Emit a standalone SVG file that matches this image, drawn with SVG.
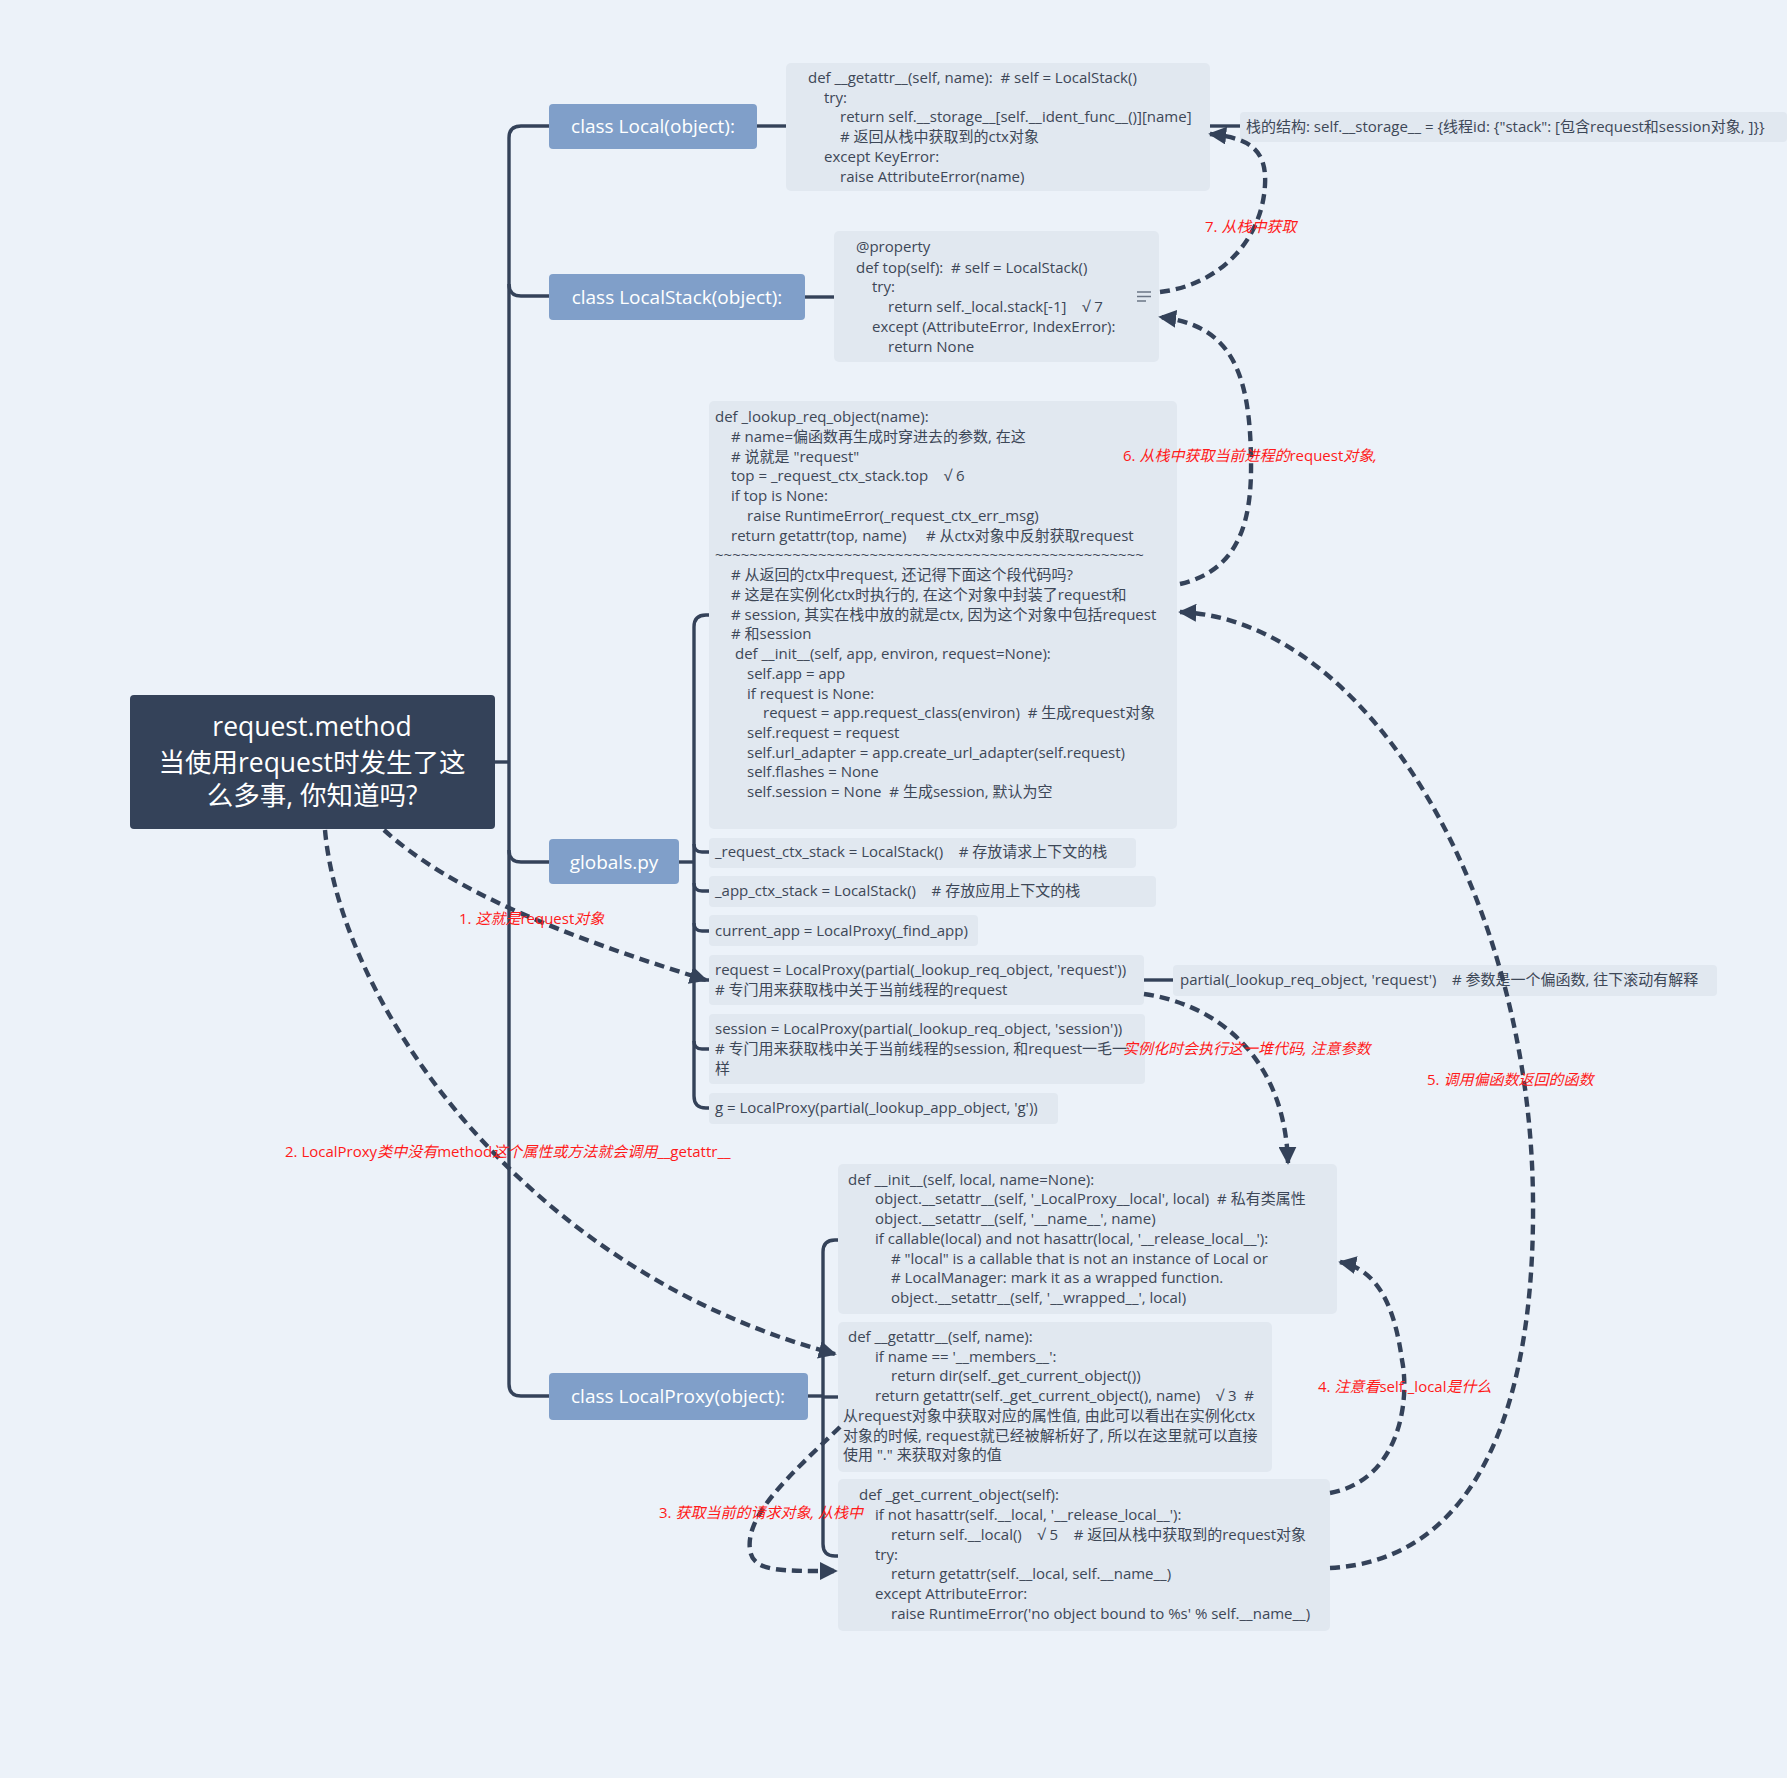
<svg xmlns="http://www.w3.org/2000/svg" width="1787" height="1778" viewBox="0 0 1787 1778">
<defs>
<style>
text{font-family:"Open Sans","Noto Sans CJK SC",sans-serif;white-space:pre}
.code{font-size:15px;fill:#3d4757}
.box{fill:#e1e8f0}
.br{fill:#809fc9}
.brt{font-size:19px;fill:#fff;text-anchor:middle}
.rt{font-size:26.5px;fill:#fff;text-anchor:middle}
.ln{fill:none;stroke:#344259;stroke-width:3.4}
.da{fill:none;stroke:#344259;stroke-width:4.4;stroke-dasharray:10 6;marker-end:url(#ah)}
.lbl{font-size:15px;fill:#ff1a1a}
.it{font-style:italic}
</style>
<marker id="ah" viewBox="0 0 10 10" refX="9" refY="5" markerWidth="18" markerHeight="18" markerUnits="userSpaceOnUse" orient="auto"><path d="M0,0 L10,5 L0,10 z" fill="#344259"/></marker>
</defs>
<rect width="1787" height="1778" fill="#ecf2f9"/>

<g id="connectors">
<path class="ln" d="M495,762 H509"/>
<path class="ln" d="M549,126 H521 Q509,126 509,138 V1384 Q509,1396 521,1396 H549"/>
<path class="ln" d="M509,284 Q509,296 521,296 H549"/>
<path class="ln" d="M509,850 Q509,862 521,862 H549"/>
<path class="ln" d="M757,126 H786"/>
<path class="ln" d="M1210,126 H1240"/>
<path class="ln" d="M805,297 H834"/>
<path class="ln" d="M679,862 H694"/>
<path class="ln" d="M709,615 H706 Q694,615 694,627 V1096 Q694,1108 706,1108 H709"/>
<path class="ln" d="M694,844 Q694,852 702,852 H709"/>
<path class="ln" d="M694,883 Q694,891 702,891 H709"/>
<path class="ln" d="M694,923 Q694,931 702,931 H709"/>
<path class="ln" d="M694,972 Q694,980 702,980 H709"/>
<path class="ln" d="M694,1041 Q694,1049 702,1049 H709"/>
<path class="ln" d="M1144,980 H1173"/>
<path class="ln" d="M808,1396 H823"/>
<path class="ln" d="M838,1240 H835 Q823,1240 823,1252 V1544 Q823,1556 835,1556 H838"/>
<path class="ln" d="M823,1397 H838"/>
</g>

<g id="root">
<rect x="130" y="695" width="365" height="134" rx="4" fill="#344259"/>
<text class="rt" x="312" y="736">request.method</text>
<text class="rt" x="312" y="771.5">当使用request时发生了这</text>
<text class="rt" x="312" y="804.5">么多事, 你知道吗?</text>
</g>

<g id="node-local">
<rect class="br" x="549" y="104" width="208" height="45" rx="4"/>
<text class="brt" x="653" y="133">class Local(object):</text>
</g>
<g id="node-localstack">
<rect class="br" x="549" y="274" width="256" height="46" rx="4"/>
<text class="brt" x="677" y="304">class LocalStack(object):</text>
</g>
<g id="node-globals">
<rect class="br" x="549" y="839" width="130" height="45" rx="4"/>
<text class="brt" x="614" y="869">globals.py</text>
</g>
<g id="node-localproxy">
<rect class="br" x="549" y="1373" width="259" height="47" rx="4"/>
<text class="brt" x="678" y="1403">class LocalProxy(object):</text>
</g>

<g id="code-local-getattr">
<rect class="box" x="786" y="63" width="424" height="128" rx="5"/>
<text class="code" x="808" y="82.5">def __getattr__(self, name):  # self = LocalStack()</text>
<text class="code" x="824" y="103">try:</text>
<text class="code" x="840" y="122.4">return self.__storage__[self.__ident_func__()][name]</text>
<text class="code" x="840" y="141.8"># 返回从栈中获取到的ctx对象</text>
<text class="code" x="824" y="162.3">except KeyError:</text>
<text class="code" x="840" y="181.7">raise AttributeError(name)</text>
</g>

<g id="note-storage">
<rect class="box" x="1240" y="112" width="547" height="30" rx="4"/>
<text class="code" x="1246" y="131.5">栈的结构: self.__storage__ = {线程id: {"stack": [包含request和session对象, ]}}</text>
</g>

<g id="code-localstack-top">
<rect class="box" x="834" y="231" width="325" height="131" rx="5"/>
<text class="code" x="856" y="252.3">@property</text>
<text class="code" x="856" y="272.8">def top(self):  # self = LocalStack()</text>
<text class="code" x="872" y="292.2">try:</text>
<text class="code" x="888" y="311.6">return self._local.stack[-1]    √ 7</text>
<text class="code" x="872" y="332.1">except (AttributeError, IndexError):</text>
<text class="code" x="888" y="351.5">return None</text>
<path d="M1137,292 H1151 M1137,296.5 H1151 M1137,301 H1146" stroke="#6b7585" stroke-width="1.4" fill="none"/>
</g>

<g id="code-lookup">
<rect class="box" x="709" y="401" width="468" height="428" rx="5"/>
<text class="code" x="715" y="422.1">def _lookup_req_object(name):</text>
<text class="code" x="731" y="441.8"># name=偏函数再生成时穿进去的参数, 在这</text>
<text class="code" x="731" y="461.6"># 说就是 "request"</text>
<text class="code" x="731" y="481.3">top = _request_ctx_stack.top    √ 6</text>
<text class="code" x="731" y="501.1">if top is None:</text>
<text class="code" x="747" y="520.8">raise RuntimeError(_request_ctx_err_msg)</text>
<text class="code" x="731" y="540.5">return getattr(top, name)     # 从ctx对象中反射获取request</text>
<text class="code" x="715" y="560.3">~~~~~~~~~~~~~~~~~~~~~~~~~~~~~~~~~~~~~~~~~~~~~~~~~~</text>
<text class="code" x="731" y="580"># 从返回的ctx中request, 还记得下面这个段代码吗?</text>
<text class="code" x="731" y="599.8"># 这是在实例化ctx时执行的, 在这个对象中封装了request和</text>
<text class="code" x="731" y="619.5"># session, 其实在栈中放的就是ctx, 因为这个对象中包括request</text>
<text class="code" x="731" y="639.2"># 和session</text>
<text class="code" x="735" y="659">def __init__(self, app, environ, request=None):</text>
<text class="code" x="747" y="678.7">self.app = app</text>
<text class="code" x="747" y="698.5">if request is None:</text>
<text class="code" x="763" y="718.2">request = app.request_class(environ)  # 生成request对象</text>
<text class="code" x="747" y="737.9">self.request = request</text>
<text class="code" x="747" y="757.7">self.url_adapter = app.create_url_adapter(self.request)</text>
<text class="code" x="747" y="777.4">self.flashes = None</text>
<text class="code" x="747" y="797.2">self.session = None  # 生成session, 默认为空</text>
</g>

<g id="code-request-ctx-stack">
<rect class="box" x="709" y="838" width="427" height="30" rx="4"/>
<text class="code" x="715" y="857">_request_ctx_stack = LocalStack()    # 存放请求上下文的栈</text>
</g>
<g id="code-app-ctx-stack">
<rect class="box" x="709" y="876" width="447" height="31" rx="4"/>
<text class="code" x="715" y="896.2">_app_ctx_stack = LocalStack()    # 存放应用上下文的栈</text>
</g>
<g id="code-current-app">
<rect class="box" x="709" y="915" width="269" height="31" rx="4"/>
<text class="code" x="715" y="936.1">current_app = LocalProxy(_find_app)</text>
</g>
<g id="code-request">
<rect class="box" x="709" y="955" width="435" height="50" rx="4"/>
<text class="code" x="715" y="974.9">request = LocalProxy(partial(_lookup_req_object, 'request'))</text>
<text class="code" x="715" y="995.4"># 专门用来获取栈中关于当前线程的request</text>
</g>
<g id="code-session">
<rect class="box" x="709" y="1014" width="436" height="70" rx="4"/>
<text class="code" x="715" y="1034.1">session = LocalProxy(partial(_lookup_req_object, 'session'))</text>
<text class="code" x="715" y="1053.5"># 专门用来获取栈中关于当前线程的session, 和request一毛一</text>
<text class="code" x="715" y="1074">样</text>
</g>
<g id="code-g">
<rect class="box" x="709" y="1093" width="349" height="31" rx="4"/>
<text class="code" x="715" y="1112.8">g = LocalProxy(partial(_lookup_app_object, 'g'))</text>
</g>
<g id="note-partial">
<rect class="box" x="1173" y="965" width="544" height="31" rx="4"/>
<text class="code" x="1180" y="985.1">partial(_lookup_req_object, 'request')    # 参数是一个偏函数, 往下滚动有解释</text>
</g>

<g id="code-proxy-init">
<rect class="box" x="838" y="1164" width="499" height="150" rx="5"/>
<text class="code" x="848" y="1184.6">def __init__(self, local, name=None):</text>
<text class="code" x="875" y="1204.3">object.__setattr__(self, '_LocalProxy__local', local)  # 私有类属性</text>
<text class="code" x="875" y="1224.1">object.__setattr__(self, '__name__', name)</text>
<text class="code" x="875" y="1243.8">if callable(local) and not hasattr(local, '__release_local__'):</text>
<text class="code" x="891" y="1263.6"># "local" is a callable that is not an instance of Local or</text>
<text class="code" x="891" y="1283.3"># LocalManager: mark it as a wrapped function.</text>
<text class="code" x="891" y="1303.1">object.__setattr__(self, '__wrapped__', local)</text>
</g>

<g id="code-proxy-getattr">
<rect class="box" x="838" y="1322" width="434" height="150" rx="5"/>
<text class="code" x="848" y="1341.9">def __getattr__(self, name):</text>
<text class="code" x="875" y="1361.7">if name == '__members__':</text>
<text class="code" x="891" y="1381.4">return dir(self._get_current_object())</text>
<text class="code" x="875" y="1401.1">return getattr(self._get_current_object(), name)    √ 3  #</text>
<text class="code" x="843" y="1420.9">从request对象中获取对应的属性值, 由此可以看出在实例化ctx</text>
<text class="code" x="843" y="1440.6">对象的时候, request就已经被解析好了, 所以在这里就可以直接</text>
<text class="code" x="843" y="1460.4">使用 "." 来获取对象的值</text>
</g>

<g id="code-proxy-get-current-object">
<rect class="box" x="838" y="1479" width="492" height="152" rx="5"/>
<text class="code" x="859" y="1500.3">def _get_current_object(self):</text>
<text class="code" x="875" y="1520">if not hasattr(self.__local, '__release_local__'):</text>
<text class="code" x="891" y="1539.8">return self.__local()    √ 5    # 返回从栈中获取到的request对象</text>
<text class="code" x="875" y="1559.5">try:</text>
<text class="code" x="891" y="1579.3">return getattr(self.__local, self.__name__)</text>
<text class="code" x="875" y="1599">except AttributeError:</text>
<text class="code" x="891" y="1618.8">raise RuntimeError('no object bound to %s' % self.__name__)</text>
</g>

<g id="flow-arrows">
<path class="da" d="M384,830 C450,890 560,935 706,980"/>
<path class="da" d="M325,830 C340,1000 520,1270 835,1354"/>
<path class="da" d="M840,1427 C790,1475 745,1515 750,1550 C753,1572 780,1571 836,1571"/>
<path class="da" d="M1330,1493 C1400,1480 1410,1400 1402,1360 C1395,1310 1380,1270 1340,1262"/>
<path class="da" d="M1330,1568 C1480,1560 1535,1400 1533,1200 C1531,900 1370,620 1180,612"/>
<path class="da" d="M1180,584 C1240,570 1252,520 1251,460 C1250,370 1230,325 1160,317"/>
<path class="da" d="M1160,292 C1220,285 1262,240 1265,185 C1267,150 1250,138 1210,134"/>
<path class="da" d="M1144,994 C1220,1005 1285,1060 1288,1163"/>
</g>

<g id="flow-labels">
<text class="lbl" x="459" y="924">1. <tspan class="it">这就是</tspan>request<tspan class="it">对象</tspan></text>
<text class="lbl" x="285" y="1157">2. LocalProxy<tspan class="it">类中没有</tspan>method<tspan class="it">这个属性或方法就会调用</tspan>__getattr__</text>
<text class="lbl" x="659" y="1518">3. <tspan class="it">获取当前的请求对象, 从栈中</tspan></text>
<text class="lbl" x="1318" y="1392">4. <tspan class="it">注意看</tspan>self._local<tspan class="it">是什么</tspan></text>
<text class="lbl" x="1427" y="1085">5. <tspan class="it">调用偏函数返回的函数</tspan></text>
<text class="lbl" x="1123" y="461">6. <tspan class="it">从栈中获取当前进程的</tspan>request<tspan class="it">对象,</tspan></text>
<text class="lbl" x="1205" y="232">7. <tspan class="it">从栈中获取</tspan></text>
<text class="lbl" x="1123" y="1054"><tspan class="it">实例化时会执行这一堆代码, 注意参数</tspan></text>
</g>
</svg>
